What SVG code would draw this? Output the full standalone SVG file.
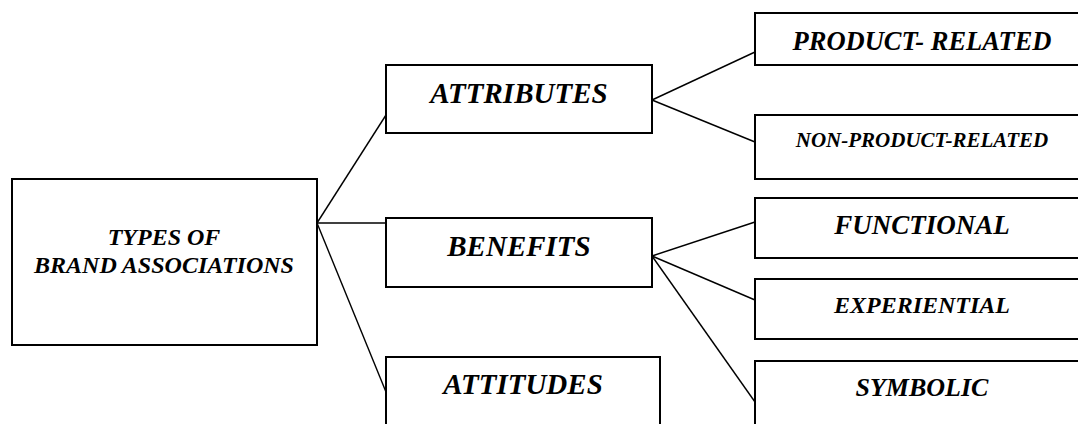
<svg xmlns="http://www.w3.org/2000/svg" width="1078" height="424" viewBox="0 0 1078 424">
<style>
.box{fill:#fff;stroke:#000;stroke-width:2}
.lbl{font-family:"Liberation Serif","Times New Roman",serif;font-weight:bold;font-style:italic;fill:#000;text-anchor:middle}
.con{stroke:#000;stroke-width:1.4;fill:none}
</style>
<rect width="1078" height="424" fill="#fff"/>
<g id="connectors">
<line class="con" x1="317" y1="223" x2="386" y2="115"/>
<line class="con" x1="317" y1="223" x2="386" y2="223"/>
<line class="con" x1="317" y1="223" x2="386" y2="392"/>
<line class="con" x1="652" y1="100" x2="755" y2="52"/>
<line class="con" x1="652" y1="100" x2="755" y2="142"/>
<line class="con" x1="652" y1="256" x2="755" y2="222"/>
<line class="con" x1="652" y1="256" x2="755" y2="300"/>
<line class="con" x1="652" y1="256" x2="755" y2="402"/>
</g>
<g id="root">
<rect class="box" x="12" y="179" width="305" height="166"/>
<text class="lbl" x="164" y="245" font-size="24">TYPES OF</text>
<text class="lbl" x="164" y="273" font-size="24">BRAND ASSOCIATIONS</text>
</g>
<g id="attributes">
<rect class="box" x="386" y="65" width="266" height="68"/>
<text class="lbl" x="519" y="103" font-size="29">ATTRIBUTES</text>
</g>
<g id="benefits">
<rect class="box" x="386" y="218" width="266" height="69"/>
<text class="lbl" x="519" y="256" font-size="29">BENEFITS</text>
</g>
<g id="attitudes">
<rect class="box" x="386" y="357" width="274" height="80"/>
<text class="lbl" x="523" y="394" font-size="29">ATTITUDES</text>
</g>
<g id="product-related">
<rect class="box" x="755" y="13" width="334" height="52"/>
<text class="lbl" x="922" y="50" font-size="26.5">PRODUCT- RELATED</text>
</g>
<g id="non-product-related">
<rect class="box" x="755" y="115" width="334" height="64"/>
<text class="lbl" x="922" y="147" font-size="21">NON-PRODUCT-RELATED</text>
</g>
<g id="functional">
<rect class="box" x="755" y="198" width="334" height="60"/>
<text class="lbl" x="922" y="234" font-size="27">FUNCTIONAL</text>
</g>
<g id="experiential">
<rect class="box" x="755" y="279" width="334" height="60"/>
<text class="lbl" x="922" y="313" font-size="24">EXPERIENTIAL</text>
</g>
<g id="symbolic">
<rect class="box" x="755" y="361" width="334" height="80"/>
<text class="lbl" x="922" y="396" font-size="26">SYMBOLIC</text>
</g>
</svg>
